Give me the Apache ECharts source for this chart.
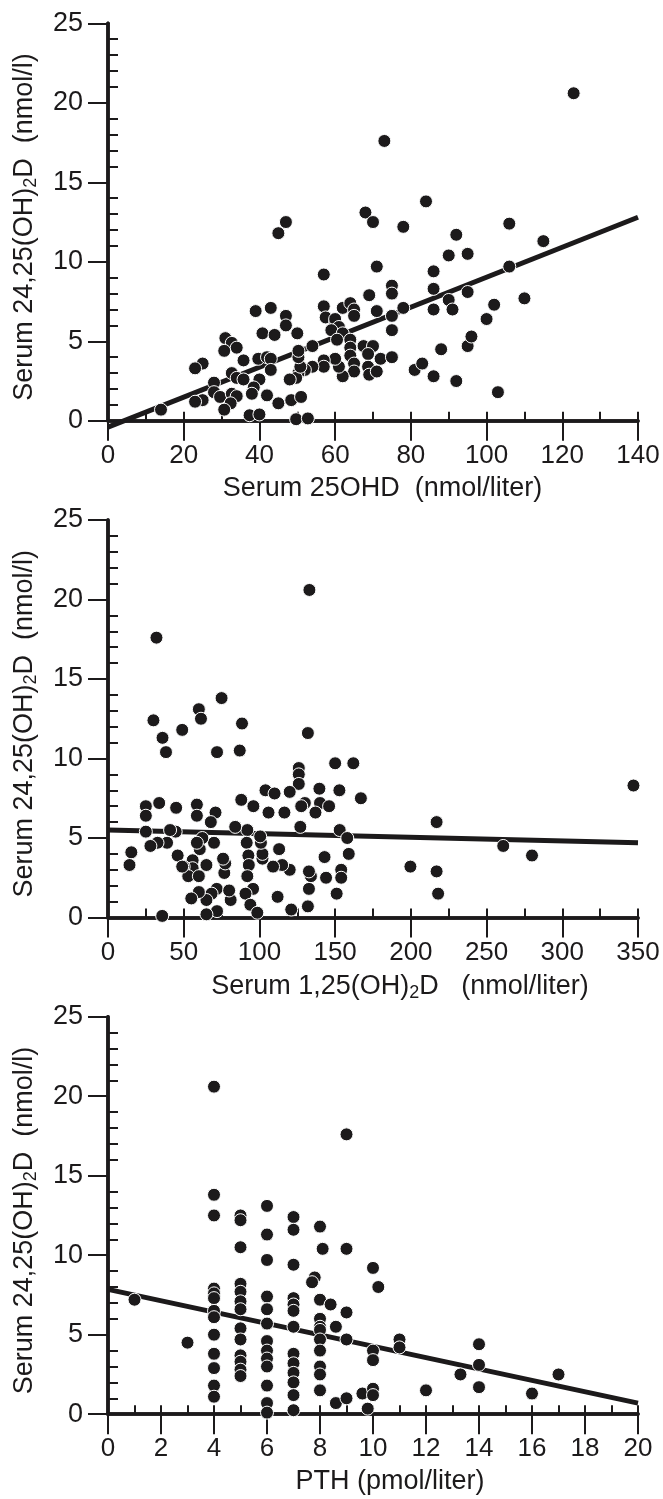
<!DOCTYPE html>
<html>
<head>
<meta charset="utf-8">
<script src="https://cdn.jsdelivr.net/npm/echarts@6/dist/echarts.min.js"></script>
<style>
  html, body { margin: 0; padding: 0; background: #fff; }
  #chart { width: 663px; height: 1499px; }
</style>
</head>
<body>
<div id="chart"></div>
<script>
// ---------- DATA ----------
// Panel 1: Serum 25OHD (nmol/liter) vs Serum 24,25(OH)2D (nmol/l)
const panel1X = [123,73,84,68,70,47,45,78,106,92,115,90,95,71,106,57,86,75,75,86,95,90,69,110,78,91,86,102,100,71,75,75,39,43,47,47,57,57.5,60,62,64,65,65,60,61,59,62,60.5,64,64,64,67.5,70,68.7,72,75,68.7,69,71,65,65,62,61,60,57,57,54,54,52,50.3,49.7,48,50.8,50.3,50.3,50,40.8,44,31,32.7,34,30.7,39.7,42,43,43,35.8,32.7,34,35.8,40,38.5,38,42,28,28,29.6,32.7,34,32.4,30.7,45,48.4,51,25,23,25,23,14,37.4,40,49.7,52.8,81,83,86,88,92,95,96,103];
const panel1Y = [20.6,17.6,13.8,13.1,12.5,12.5,11.8,12.2,12.4,11.7,11.3,10.4,10.5,9.7,9.7,9.2,9.4,8.5,8.0,8.3,8.1,7.6,7.9,7.7,7.1,7.0,7.0,7.3,6.4,6.9,6.6,5.7,6.9,7.1,6.6,6.0,7.2,6.5,6.2,7.1,7.4,7.0,6.6,6.4,5.9,5.7,5.5,5.1,5.1,4.6,4.1,4.7,4.7,4.2,3.9,4.0,3.4,2.9,3.1,3.6,3.1,2.8,3.4,3.9,3.8,3.4,4.7,3.4,3.2,3.0,2.7,2.6,3.4,4.0,4.4,5.5,5.5,5.4,5.2,4.9,4.6,4.4,3.9,4.0,3.9,3.2,3.8,3.0,2.7,2.6,2.6,2.1,1.7,1.6,2.4,1.8,1.5,1.7,1.55,1.1,0.7,1.1,1.3,1.5,3.6,3.3,1.3,1.2,0.7,0.35,0.4,0.1,0.15,3.2,3.6,2.8,4.5,2.5,4.7,5.3,1.8];
const panel1FitX = [0, 140];
const panel1FitY = [-0.4, 12.8];

// Panel 2: Serum 1,25(OH)2D (nmol/liter) vs Serum 24,25(OH)2D
const panel2X = [133,32,75,60,61.4,30,88.5,49,36,132,38.3,72,87,126,126,150,162,347,126,120,104,110,139.6,152.8,167,88,96,106,116.5,130,127.6,140,146,137,127,153,158,159,143,144,154,154,151,134,132.7,132,132.7,121,112,120,115,113,109,102,102,101,100.5,92,91.6,92.7,93,92,95.8,90.8,94,98.6,84,76.8,77.4,76,71.8,68.4,65,72,65,81,80,70,71,67.9,62.3,60.6,58.7,65,55.9,55.9,50,53,60,60,55,58.7,58.7,46,49,45,44.7,41,39,33.8,32.7,28,25,25,25,15.4,14.2,35.8,199.7,217,217,218,261,280];
const panel2Y = [20.6,17.6,13.8,13.1,12.5,12.4,12.2,11.8,11.3,11.6,10.4,10.4,10.5,9.4,9.0,9.7,9.7,8.3,8.4,7.9,8.0,7.8,8.1,8.0,7.5,7.4,7.0,6.6,6.6,7.2,7.0,7.2,7.0,6.6,5.7,5.5,5.0,4.0,3.8,2.5,3.0,2.5,1.5,2.6,1.8,0.7,2.9,0.5,1.3,3.0,3.3,4.3,3.2,3.7,4.0,4.7,5.1,5.5,4.7,3.9,3.3,2.6,1.8,1.5,0.8,0.3,5.7,2.8,3.4,3.7,1.8,1.5,1.1,0.4,0.2,1.1,1.7,4.7,6.6,6.0,5.0,4.3,4.7,3.3,3.6,3.1,3.2,2.6,2.6,1.6,1.2,7.1,6.4,3.9,3.2,6.9,5.4,5.5,4.7,7.2,4.7,4.5,7.0,6.4,5.4,4.1,3.3,0.1,3.2,6.0,2.9,1.5,4.5,3.9];
const panel2FitX = [0, 350];
const panel2FitY = [5.5, 4.7];

// Panel 3: PTH (pmol/liter) vs Serum 24,25(OH)2D
const panel3X = [4,9,4,4,5,5,6,7,7,8,6,5,8.1,9,6,7,10,10.2,7.8,7.7,1,3,4,4,4,4,4,4,4,4,4,4,5,5,5,5,5,5,5,5,5,5,6,6,6,6,6,6,6,6,6,6,7,7,7,7,7,7,7,7,7,7,8,8.4,9,8.6,8,8,8,8,8,8,8,8,9,8.6,9,9.6,10,10,9.8,10,10,11,11,12,13.3,14,14,14,16,17];
const panel3Y = [20.6,17.6,13.8,12.5,12.5,12.2,13.1,12.4,11.6,11.8,11.3,10.5,10.4,10.4,9.7,9.4,9.2,8.0,8.6,8.3,7.2,4.5,7.9,7.6,7.3,6.5,6.1,5.0,3.8,2.9,1.8,1.1,8.2,7.7,7.1,6.6,5.4,4.7,3.7,3.3,2.8,2.4,7.4,6.6,5.7,4.6,4.0,3.5,3.0,1.8,0.7,0.1,7.3,6.9,6.5,5.5,3.8,3.2,2.6,2.0,1.2,0.25,7.2,6.9,6.4,5.5,6.0,5.5,5.3,4.7,4.0,3.0,2.5,1.5,4.7,0.7,1.0,1.3,1.6,1.2,0.35,4.0,3.4,4.7,4.2,1.5,2.5,4.4,3.1,1.7,1.3,2.5];
const panel3FitX = [0, 20];
const panel3FitY = [7.85, 0.7];

// Axis setup (tick values)
const yTicks = { min: 0, max: 25, interval: 5 };
const panel1XTicks = { min: 0, max: 140, interval: 20 };
const panel2XTicks = { min: 0, max: 350, interval: 50 };
const panel3XTicks = { min: 0, max: 20, interval: 2 };

const yTitle = 'Serum 24,25(OH){s|2}D  (nmol/l)';
const xTitles = [
  'Serum 25OHD  (nmol/liter)',
  'Serum 1,25(OH){s|2}D   (nmol/liter)',
  'PTH (pmol/liter)'
];

// ---------- CHART ----------
const FONT = '"Liberation Sans", Arial, Helvetica, sans-serif';
const INK = '#1c1a1b';
const tops = [23.3, 520, 1016.7];
const gridH = 397.5;

const panels = [
  { x: panel1X, y: panel1Y, fx: panel1FitX, fy: panel1FitY, xt: panel1XTicks, namePad: 19 },
  { x: panel2X, y: panel2Y, fx: panel2FitX, fy: panel2FitY, xt: panel2XTicks, namePad: 54 },
  { x: panel3X, y: panel3Y, fx: panel3FitX, fy: panel3FitY, xt: panel3XTicks, namePad: 34 }
];

const zipPts = (xs, ys) => xs.map((v, i) => [v, ys[i]]);
const richSub = { s: { fontSize: 18, fontFamily: FONT, color: INK, padding: [13, 0, 0, 0] } };

const grid = [], xAxis = [], yAxis = [], series = [];
panels.forEach((p, i) => {
  grid.push({ left: 108, right: 25, top: tops[i], height: gridH });
  // main x axis: labels, line, inward ticks + inward minor ticks
  xAxis.push({
    type: 'value', gridIndex: i, position: 'bottom', offset: 0,
    min: p.xt.min, max: p.xt.max, interval: p.xt.interval,
    splitLine: { show: false },
    axisLine: { show: true, onZero: false, lineStyle: { color: INK, width: 3.5 } },
    axisTick: { show: true, inside: true, length: 9, lineStyle: { color: INK, width: 2 } },
    minorTick: { show: true, splitNumber: 2, length: 9, lineStyle: { color: INK, width: 2 } },
    axisLabel: { show: true, margin: 22, fontSize: 26, fontFamily: FONT, color: INK, showMinLabel: true, showMaxLabel: true },
    name: xTitles[i], nameLocation: 'middle', nameGap: 54,
    nameTextStyle: { fontSize: 27, fontFamily: FONT, color: INK, padding: [0, 0, 0, p.namePad], rich: richSub },
    z: 2
  });
  // overlay x axis: outward major ticks, same place
  xAxis.push({
    type: 'value', gridIndex: i, position: 'bottom', offset: 0,
    min: p.xt.min, max: p.xt.max, interval: p.xt.interval,
    splitLine: { show: false },
    axisLine: { show: true, onZero: false, lineStyle: { color: INK, width: 3.5 } },
    axisTick: { show: true, inside: false, length: 20, lineStyle: { color: INK, width: 2 } },
    minorTick: { show: false },
    axisLabel: { show: false },
    z: 2
  });
  // main y axis: labels, line, outward major ticks
  yAxis.push({
    type: 'value', gridIndex: i, position: 'left', offset: 0,
    min: yTicks.min, max: yTicks.max, interval: yTicks.interval,
    splitLine: { show: false },
    axisLine: { show: true, onZero: false, lineStyle: { color: INK, width: 3.5 } },
    axisTick: { show: true, inside: false, length: 20, lineStyle: { color: INK, width: 2 } },
    axisLabel: { show: true, margin: 25, fontSize: 27, fontFamily: FONT, color: INK },
    name: yTitle, nameLocation: 'middle', nameRotate: 90, nameGap: 68,
    nameTextStyle: { fontSize: 27, fontFamily: FONT, color: INK, padding: [0, 10, 0, 0], rich: richSub },
    z: 2
  });
  // overlay y axis: inward minor ticks, same place
  yAxis.push({
    type: 'value', gridIndex: i, position: 'left', offset: 0,
    min: yTicks.min, max: yTicks.max, interval: yTicks.interval,
    splitLine: { show: false },
    axisLine: { show: true, onZero: false, lineStyle: { color: INK, width: 3.5 } },
    axisTick: { show: true, inside: true, length: 1, lineStyle: { color: INK, width: 2 } },
    minorTick: { show: true, splitNumber: 5, length: 10, lineStyle: { color: INK, width: 2 } },
    axisLabel: { show: false },
    z: 2
  });
  series.push({
    type: 'line', xAxisIndex: 2 * i, yAxisIndex: 2 * i,
    data: zipPts(p.fx, p.fy), symbol: 'none', clip: false, silent: true,
    lineStyle: { color: INK, width: 5 }, z: 3
  });
  series.push({
    type: 'scatter', xAxisIndex: 2 * i, yAxisIndex: 2 * i,
    data: zipPts(p.x, p.y), symbolSize: 13, clip: false,
    itemStyle: { color: INK, borderColor: '#ffffff', borderWidth: 1, opacity: 1 }, z: 4
  });
});

const chart = echarts.init(document.getElementById('chart'), null, { renderer: 'canvas' });
chart.setOption({
  animation: false,
  backgroundColor: '#ffffff',
  textStyle: { fontFamily: FONT },
  grid, xAxis, yAxis, series
});
</script>
</body>
</html>
